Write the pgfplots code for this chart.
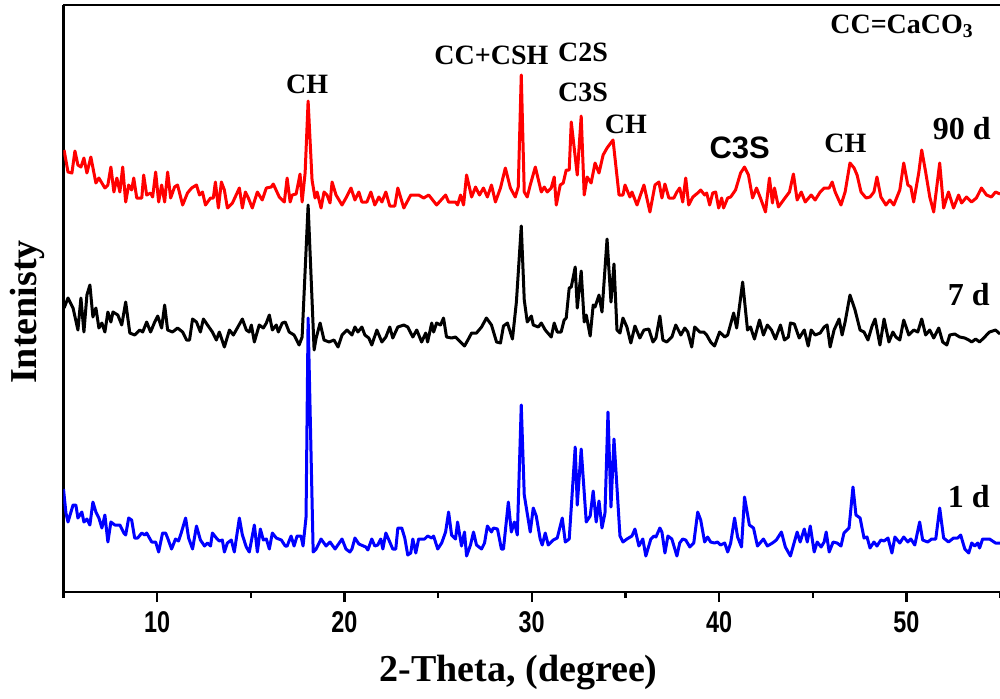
\documentclass[border=0pt]{standalone}
\usepackage{fontspec}
\setmainfont{Liberation Serif}
\newfontfamily\arialfont{Liberation Sans}
\usepackage{graphicx}
\usepackage{pgfplots}
\pgfplotsset{compat=1.18}
\begin{document}
\begin{tikzpicture}
\begin{axis}[
  scale only axis, width=468.25pt, height=293.5pt,
  xmin=5, xmax=55, ymin=0, ymax=587,
  axis x line*=box, axis y line*=left,
  axis line style={-, line width=1.2pt},
  every outer x axis line/.append style={-},
  every outer y axis line/.append style={-},
  ytick=\empty,
  xtick={10,20,30,40,50},
  xticklabels={10,20,30,40,50},
  minor xtick={5,15,25,35,45,55},
  xtick align=outside, xtick pos=left,
  major tick length=5pt, minor tick length=3pt,
  every tick/.style={black, line width=1.2pt},
  xticklabel style={font=\arialfont\bfseries\fontsize{15}{15}\selectfont, xscale=0.78, yshift=-1pt},
  xlabel={2-Theta, (degree)},
  ylabel={Intenisty},
  xlabel style={font=\bfseries\fontsize{19}{19}\selectfont, at={(rel axis cs:0.486,0)}, anchor=center, yshift=-40pt},
  ylabel style={font=\bfseries\fontsize{19}{19}\selectfont, at={(rel axis cs:0,0.477)}, anchor=center, rotate=0, yshift=18.25pt},
  clip=true,
  every axis plot/.append style={line width=1.5pt, line join=round},
]
\addplot[red] coordinates {(5.03,442)(5.24,420)(5.45,419)(5.61,441)(5.77,427)(5.93,425)(6.09,434)(6.25,419)(6.46,435)(6.73,409)(6.89,414)(7.21,404)(7.37,407)(7.53,425)(7.69,400)(7.85,414)(8.01,400)(8.16,425)(8.32,390)(8.48,407)(8.64,402)(8.75,414)(8.91,394)(9.18,394)(9.28,417)(9.44,397)(9.65,399)(9.76,395)(9.92,420)(10.08,390)(10.24,407)(10.40,390)(10.56,420)(10.72,394)(10.93,405)(11.09,407)(11.36,387)(11.62,399)(11.84,404)(12.10,407)(12.26,397)(12.42,400)(12.58,387)(12.85,394)(13.00,394)(13.11,410)(13.27,384)(13.43,410)(13.59,402)(13.75,384)(14.02,389)(14.39,404)(14.55,384)(14.71,400)(14.87,394)(15.08,384)(15.35,400)(15.61,392)(15.83,404)(16.09,405)(16.20,408)(16.52,395)(16.79,390)(16.94,414)(17.10,390)(17.21,397)(17.42,398)(17.63,418)(17.74,390)(17.90,419)(18.06,491)(18.27,412)(18.43,394)(18.54,400)(18.75,384)(18.91,400)(19.07,397)(19.23,389)(19.34,410)(19.55,397)(19.87,387)(20.08,394)(20.35,404)(20.56,392)(20.77,400)(20.93,390)(21.20,390)(21.41,400)(21.62,387)(21.84,395)(22.00,390)(22.21,400)(22.42,386)(22.69,386)(22.85,404)(23.17,384)(23.54,397)(23.96,397)(24.23,394)(24.50,397)(24.92,387)(25.40,397)(25.56,390)(25.93,390)(26.04,387)(26.20,397)(26.36,387)(26.52,417)(26.79,395)(27.00,405)(27.21,397)(27.42,404)(27.63,395)(27.85,407)(28.06,390)(28.33,404)(28.59,424)(28.86,404)(29.12,395)(29.28,405)(29.44,517)(29.60,400)(29.76,395)(29.92,407)(30.19,425)(30.51,400)(30.67,405)(30.83,400)(31.04,404)(31.20,415)(31.31,387)(31.52,407)(31.68,409)(31.84,422)(32.00,422)(32.11,470)(32.43,417)(32.64,476)(32.80,397)(32.96,415)(33.17,409)(33.38,429)(33.59,419)(33.81,437)(34.02,444)(34.34,452)(34.66,397)(34.87,397)(34.98,407)(35.24,395)(35.35,400)(35.62,387)(35.99,407)(36.31,380)(36.58,407)(36.79,410)(36.95,394)(37.11,408)(37.32,394)(37.59,394)(37.75,400)(37.90,404)(38.06,390)(38.22,414)(38.38,387)(38.60,395)(38.86,399)(39.02,402)(39.23,397)(39.34,399)(39.50,387)(39.66,399)(39.82,400)(39.98,384)(40.14,394)(40.24,384)(40.46,394)(40.62,395)(40.88,402)(41.15,419)(41.36,425)(41.57,417)(41.79,394)(42.00,404)(42.21,394)(42.48,380)(42.69,414)(42.85,389)(42.96,404)(43.17,385)(43.44,392)(43.76,400)(43.97,418)(44.17,392)(44.39,400)(44.60,390)(44.92,397)(45.13,392)(45.40,400)(45.61,404)(45.88,404)(46.04,410)(46.20,400)(46.51,387)(46.73,400)(46.99,429)(47.21,424)(47.37,417)(47.58,400)(47.85,394)(48.06,395)(48.27,400)(48.43,415)(48.64,395)(48.91,387)(49.12,392)(49.33,387)(49.65,402)(49.86,429)(50.08,407)(50.24,405)(50.39,390)(50.66,419)(50.82,442)(51.03,420)(51.25,395)(51.46,380)(51.78,429)(51.99,384)(52.25,400)(52.52,384)(52.79,397)(52.95,389)(53.21,395)(53.48,390)(53.74,394)(54.01,404)(54.28,397)(54.54,395)(54.76,400)(55.00,398)};
\addplot[black] coordinates {(5.03,284)(5.24,294)(5.51,284)(5.77,262)(5.93,294)(6.09,260)(6.25,297)(6.41,307)(6.57,275)(6.73,284)(6.89,264)(7.05,269)(7.21,260)(7.37,280)(7.53,270)(7.64,280)(7.90,277)(8.11,267)(8.32,290)(8.54,259)(8.80,257)(9.07,262)(9.23,260)(9.44,270)(9.65,260)(9.87,270)(10.03,276)(10.24,264)(10.40,287)(10.56,262)(10.82,260)(11.09,264)(11.36,260)(11.57,252)(11.73,252)(11.89,273)(12.10,270)(12.31,260)(12.47,273)(12.69,267)(12.95,260)(13.16,252)(13.32,260)(13.59,245)(13.86,262)(14.07,257)(14.28,264)(14.55,273)(14.76,262)(14.92,260)(15.03,267)(15.19,250)(15.45,267)(15.67,264)(15.83,269)(15.99,277)(16.15,262)(16.36,267)(16.47,260)(16.68,269)(16.84,270)(17.05,260)(17.31,257)(17.58,247)(17.74,255)(18.06,387)(18.38,242)(18.49,254)(18.70,269)(18.91,252)(19.18,250)(19.44,252)(19.66,245)(19.87,257)(20.13,262)(20.40,257)(20.56,265)(20.72,260)(20.93,265)(21.09,257)(21.30,254)(21.46,247)(21.73,262)(22.00,250)(22.21,255)(22.42,265)(22.58,254)(22.85,265)(23.17,267)(23.38,265)(23.65,255)(23.86,262)(24.12,250)(24.34,259)(24.44,250)(24.66,269)(24.76,260)(24.92,269)(25.13,267)(25.29,274)(25.45,255)(25.72,254)(25.93,255)(26.20,250)(26.41,246)(26.62,253)(26.79,259)(27.05,259)(27.32,265)(27.58,274)(27.85,267)(28.12,250)(28.33,249)(28.49,266)(28.70,269)(28.97,253)(29.18,290)(29.44,366)(29.60,292)(29.76,270)(29.98,276)(30.08,267)(30.35,265)(30.51,269)(30.72,262)(31.04,255)(31.20,269)(31.36,260)(31.57,260)(31.73,272)(31.84,274)(32.00,304)(32.11,305)(32.32,325)(32.43,284)(32.64,321)(32.80,270)(32.91,277)(33.12,256)(33.28,287)(33.38,285)(33.59,297)(33.75,280)(34.02,353)(34.23,290)(34.39,328)(34.55,262)(34.71,259)(34.87,274)(35.08,265)(35.29,249)(35.51,266)(35.77,254)(35.99,262)(36.25,263)(36.47,250)(36.63,254)(36.84,276)(37.00,252)(37.21,250)(37.48,255)(37.69,267)(37.96,257)(38.17,264)(38.33,260)(38.54,245)(38.70,265)(38.97,260)(39.18,260)(39.34,257)(39.55,250)(39.76,246)(40.03,260)(40.30,255)(40.46,257)(40.78,279)(40.94,264)(41.26,310)(41.52,262)(41.68,265)(41.89,253)(42.16,272)(42.37,257)(42.58,267)(42.80,262)(43.01,253)(43.28,267)(43.49,252)(43.70,255)(43.81,269)(44.02,268)(44.28,254)(44.55,262)(44.76,246)(44.92,262)(45.13,257)(45.40,259)(45.61,265)(45.77,267)(45.93,245)(46.14,262)(46.41,273)(46.57,257)(46.73,270)(46.99,297)(47.26,282)(47.53,262)(47.74,260)(47.95,252)(48.17,266)(48.33,273)(48.59,247)(48.81,273)(49.07,250)(49.28,260)(49.44,255)(49.65,252)(49.86,272)(50.13,257)(50.39,262)(50.61,260)(50.82,273)(51.03,257)(51.25,262)(51.46,254)(51.73,264)(51.94,250)(52.16,247)(52.32,257)(52.58,258)(52.85,255)(53.12,254)(53.33,252)(53.49,250)(53.70,253)(53.91,250)(54.18,255)(54.44,260)(54.76,262)(55.00,258)};
\addplot[blue] coordinates {(5.00,103)(5.13,79)(5.24,70)(5.51,87)(5.66,87)(5.77,74)(5.98,80)(6.09,70)(6.25,73)(6.41,67)(6.57,90)(6.73,80)(6.89,74)(7.05,64)(7.21,77)(7.37,50)(7.53,70)(7.74,67)(8.01,67)(8.22,59)(8.32,57)(8.48,74)(8.64,72)(8.80,54)(8.96,54)(9.18,59)(9.34,57)(9.44,59)(9.71,50)(9.92,50)(10.08,40)(10.29,59)(10.45,59)(10.56,54)(10.77,43)(10.98,53)(11.14,51)(11.30,60)(11.52,74)(11.68,54)(11.89,43)(12.10,66)(12.31,52)(12.53,46)(12.69,49)(12.85,46)(12.95,59)(13.16,54)(13.32,51)(13.48,52)(13.59,40)(13.75,49)(13.96,52)(14.12,40)(14.39,74)(14.55,57)(14.76,45)(14.92,40)(15.19,67)(15.35,40)(15.51,63)(15.67,52)(15.83,53)(15.99,43)(16.15,59)(16.36,54)(16.63,52)(16.84,46)(16.94,46)(17.15,56)(17.31,46)(17.47,56)(17.68,56)(17.79,46)(17.95,75)(18.06,274)(18.33,40)(18.49,43)(18.75,53)(19.02,46)(19.23,50)(19.50,43)(19.87,53)(20.08,43)(20.29,40)(20.40,43)(20.56,54)(20.77,48)(21.14,45)(21.25,42)(21.46,53)(21.62,46)(21.78,47)(21.94,53)(22.05,43)(22.21,59)(22.42,50)(22.58,43)(22.74,43)(22.85,64)(23.06,64)(23.22,54)(23.38,37)(23.54,39)(23.65,53)(23.81,39)(23.96,53)(24.28,53)(24.44,56)(24.66,54)(24.76,56)(24.98,43)(25.19,49)(25.40,60)(25.56,80)(25.72,57)(25.93,53)(26.04,70)(26.25,46)(26.41,60)(26.52,36)(26.73,47)(26.89,60)(27.05,47)(27.32,43)(27.48,49)(27.63,66)(27.85,60)(27.95,64)(28.17,63)(28.38,43)(28.49,43)(28.75,90)(28.91,60)(29.07,70)(29.23,57)(29.44,187)(29.60,97)(29.92,60)(30.08,84)(30.24,76)(30.45,53)(30.56,47)(30.72,59)(30.88,47)(31.15,52)(31.36,54)(31.63,74)(31.79,50)(32.00,53)(32.32,145)(32.43,87)(32.64,143)(32.91,70)(33.12,76)(33.28,101)(33.44,70)(33.59,91)(33.75,64)(33.91,79)(34.07,180)(34.23,85)(34.39,153)(34.71,56)(34.87,50)(35.08,53)(35.35,56)(35.51,63)(35.72,46)(35.93,53)(36.09,36)(36.36,53)(36.52,56)(36.63,55)(36.84,64)(36.95,60)(37.11,39)(37.27,56)(37.48,53)(37.75,36)(37.90,49)(38.06,53)(38.22,52)(38.44,45)(38.65,49)(38.86,80)(39.02,72)(39.23,50)(39.39,55)(39.55,50)(39.76,49)(39.92,50)(40.08,47)(40.30,49)(40.46,40)(40.62,49)(40.83,74)(40.99,55)(41.20,45)(41.36,95)(41.62,67)(41.84,64)(42.05,46)(42.37,53)(42.58,46)(42.85,49)(43.06,52)(43.33,60)(43.54,45)(43.81,36)(44.02,50)(44.17,60)(44.33,50)(44.55,63)(44.71,50)(44.87,66)(45.08,40)(45.24,50)(45.45,45)(45.61,50)(45.72,60)(45.88,40)(46.09,50)(46.30,49)(46.51,46)(46.67,59)(46.94,64)(47.15,105)(47.31,77)(47.53,74)(47.74,54)(47.90,55)(48.06,44)(48.27,50)(48.43,46)(48.64,52)(48.81,51)(49.02,54)(49.23,39)(49.39,55)(49.65,49)(49.86,55)(50.08,50)(50.24,53)(50.45,47)(50.71,70)(50.87,52)(51.14,50)(51.35,53)(51.57,53)(51.78,84)(51.99,54)(52.25,50)(52.52,54)(52.74,54)(52.90,57)(53.12,43)(53.33,39)(53.49,49)(53.65,46)(53.81,49)(53.91,44)(54.07,53)(54.44,53)(54.76,49)(55.00,49)};
\begin{scope}[every node/.style={font=\bfseries\fontsize{14}{14}\selectfont, inner sep=0pt}]
\node at (axis cs:18.01,508) {CH};
\node at (axis cs:27.85,537) {CC+CSH};
\node at (axis cs:32.74,540) {C2S};
\node at (axis cs:32.74,500) {C3S};
\node at (axis cs:35.03,468) {CH};
\node[font=\arialfont\bfseries\fontsize{15.5}{15.5}\selectfont] at (axis cs:41.10,444) {C3S};
\node at (axis cs:46.74,449) {CH};
\node[font=\bfseries\fontsize{16}{16}\selectfont] at (axis cs:52.96,463) {90 d};
\node[font=\bfseries\fontsize{16}{16}\selectfont] at (axis cs:53.33,297) {7 d};
\node[font=\bfseries\fontsize{16}{16}\selectfont] at (axis cs:53.33,95) {1 d};
\node at (axis cs:49.77,566) {CC=CaCO\textsubscript{3}};
\end{scope}
\end{axis}
\pgfresetboundingbox
\path ([xshift=-31.75pt,yshift=-53pt]current axis.south west) rectangle ([yshift=2.5pt]current axis.north east);
\end{tikzpicture}
\end{document}
